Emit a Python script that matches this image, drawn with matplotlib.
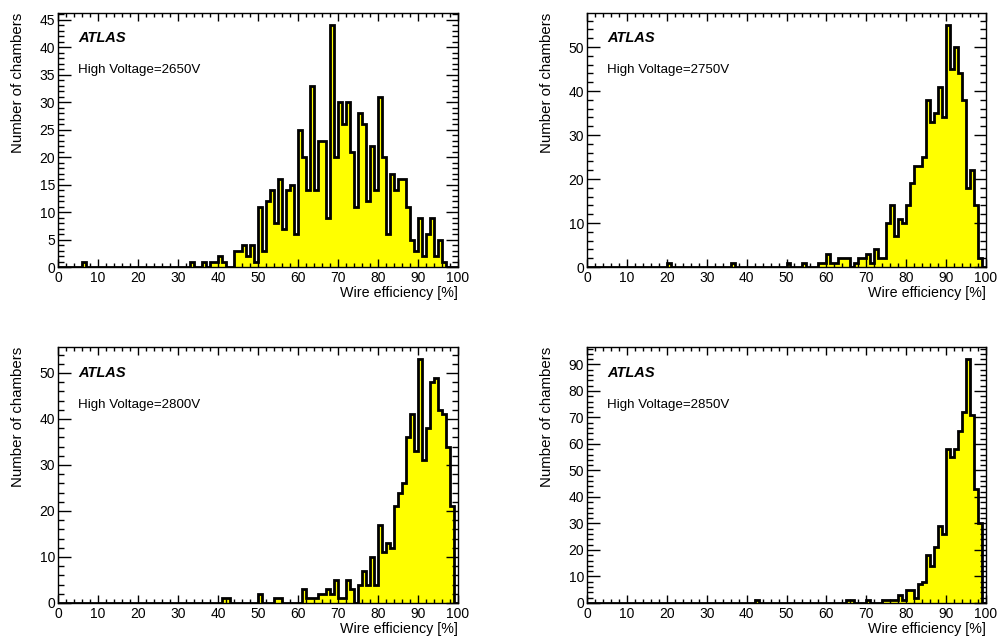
import numpy as np
import matplotlib.pyplot as plt
from matplotlib.ticker import MultipleLocator

plt.rcParams['font.family'] = ['Liberation Sans', 'DejaVu Sans']

## wire efficiency histograms, 1% bins from 0 to 100
edges = np.arange(0, 101, 1)

counts_2650 = [0, 0, 0, 0, 0, 0, 1, 0, 0, 0,
               0, 0, 0, 0, 0, 0, 0, 0, 0, 0,
               0, 0, 0, 0, 0, 0, 0, 0, 0, 0,
               0, 0, 0, 1, 0, 0, 1, 0, 1, 1,
               2, 1, 0, 0, 3, 3, 4, 2, 4, 1,
               11, 3, 12, 14, 8, 16, 7, 14, 15, 6,
               25, 20, 14, 33, 14, 23, 23, 9, 44, 20,
               30, 26, 30, 21, 11, 28, 26, 12, 22, 14,
               31, 20, 6, 17, 14, 16, 16, 11, 5, 3,
               9, 2, 6, 9, 2, 5, 1, 0, 0, 0]

counts_2750 = [0, 0, 0, 0, 0, 0, 0, 0, 0, 0,
               0, 0, 0, 0, 0, 0, 0, 0, 0, 0,
               1, 0, 0, 0, 0, 0, 0, 0, 0, 0,
               0, 0, 0, 0, 0, 0, 1, 0, 0, 0,
               0, 0, 0, 0, 0, 0, 0, 0, 0, 0,
               1, 0, 0, 0, 1, 0, 0, 0, 1, 1,
               3, 1, 1, 2, 2, 2, 0, 1, 2, 2,
               3, 1, 4, 2, 2, 10, 14, 7, 11, 10,
               14, 19, 23, 23, 25, 38, 33, 35, 41, 34,
               55, 45, 50, 44, 38, 18, 22, 14, 2, 0]

counts_2800 = [0, 0, 0, 0, 0, 0, 0, 0, 0, 0,
               0, 0, 0, 0, 0, 0, 0, 0, 0, 0,
               0, 0, 0, 0, 0, 0, 0, 0, 0, 0,
               0, 0, 0, 0, 0, 0, 0, 0, 0, 0,
               0, 1, 1, 0, 0, 0, 0, 0, 0, 0,
               2, 0, 0, 0, 1, 1, 0, 0, 0, 0,
               0, 3, 1, 1, 1, 2, 2, 3, 2, 5,
               1, 1, 5, 3, 0, 4, 7, 4, 10, 4,
               17, 11, 13, 12, 21, 24, 26, 36, 41, 33,
               53, 31, 38, 48, 49, 42, 41, 34, 21, 0]

counts_2850 = [0, 0, 0, 0, 0, 0, 0, 0, 0, 0,
               0, 0, 0, 0, 0, 0, 0, 0, 0, 0,
               0, 0, 0, 0, 0, 0, 0, 0, 0, 0,
               0, 0, 0, 0, 0, 0, 0, 0, 0, 0,
               0, 0, 1, 0, 0, 0, 0, 0, 0, 0,
               0, 0, 0, 0, 0, 0, 0, 0, 0, 0,
               0, 0, 0, 0, 0, 1, 1, 0, 0, 0,
               1, 0, 0, 0, 1, 1, 1, 1, 3, 1,
               5, 5, 2, 7, 8, 18, 14, 21, 29, 26,
               58, 55, 58, 65, 72, 92, 71, 43, 30, 0]

voltages = ['2650', '2750', '2800', '2850']
y_major = [5, 10, 10, 10]
y_minor = [1, 2, 2, 2]

## axes boxes in figure fraction (left, bottom, width, height)
boxes = [[0.058, 0.5808, 0.400, 0.3988],
         [0.587, 0.5808, 0.399, 0.3988],
         [0.058, 0.0534, 0.400, 0.4019],
         [0.587, 0.0534, 0.399, 0.4019]]


def draw_hist(ax, counts, hv, ymaj, ymin):
    counts = np.array(counts)
    ax.stairs(counts, edges, fill=True, color='#ffff00', lw=0)
    ax.stairs(counts, edges, color='black', lw=2)

    ax.set_xlim(0, 100)
    ax.set_ylim(0, 1.05 * counts.max())

    ax.xaxis.set_major_locator(MultipleLocator(10))
    ax.xaxis.set_minor_locator(MultipleLocator(2))
    ax.yaxis.set_major_locator(MultipleLocator(ymaj))
    ax.yaxis.set_minor_locator(MultipleLocator(ymin))

    ax.tick_params(which='both', direction='in', top=True, right=True,
                   labelsize=10, width=1)
    ax.tick_params(axis='x', which='major', length=6, pad=3)
    ax.tick_params(axis='x', which='minor', length=3)
    ax.tick_params(axis='y', which='major', length=9, pad=2)
    ax.tick_params(axis='y', which='minor', length=4.5)
    for s in ax.spines.values():
        s.set_linewidth(1)

    ax.set_xlabel('Wire efficiency [%]', loc='right', fontsize=10.3)
    ax.xaxis.set_label_coords(1.0, -0.075)
    ax.set_ylabel('Number of chambers', loc='top', fontsize=10.8)
    ax.yaxis.set_label_coords(-0.083, 1.0)

    ax.text(0.05, 0.90, 'ATLAS', transform=ax.transAxes, fontsize=10.5,
            fontweight='bold', fontstyle='italic', va='center')
    ax.text(0.05, 0.775, 'High Voltage=' + hv + 'V', transform=ax.transAxes,
            fontsize=9.6, va='center')


fig = plt.figure(figsize=(10, 6.37), dpi=100)
all_counts = [counts_2650, counts_2750, counts_2800, counts_2850]
for i in range(4):
    ax = fig.add_axes(boxes[i])
    draw_hist(ax, all_counts[i], voltages[i], y_major[i], y_minor[i])

fig.savefig('out.png', dpi=100)
